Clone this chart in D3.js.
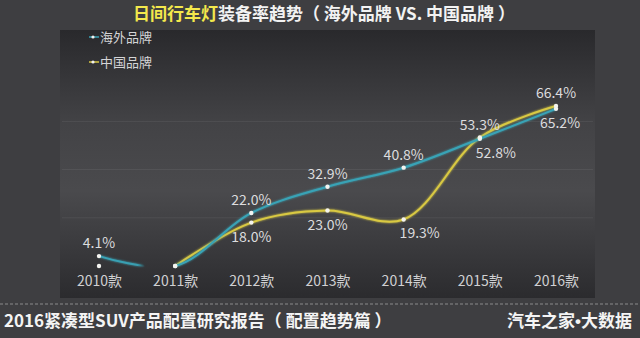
<!DOCTYPE html>
<html><head><meta charset="utf-8">
<script src="https://cdn.jsdelivr.net/npm/d3@7"></script>
<style>
html,body{margin:0;padding:0;background:#3d3d40;}
svg{display:block;}
text{font-family:"Noto Sans CJK SC","Noto Sans",sans-serif;}
</style></head>
<body>
<svg id="c" width="640" height="338"></svg>
<script>
const categories = ["2010款","2011款","2012款","2013款","2014款","2015款","2016款"];
const foreignValues = [4.1, 0, 22.0, 32.9, 40.8, 52.8, 65.2];
const chineseValues = [0, 0, 18.0, 23.0, 19.3, 53.3, 66.4];
const seriesNames = ["海外品牌","中国品牌"];
const gridTicks = [20, 40, 60];

const svg = d3.select("#c");
const defs = svg.append("defs");

svg.append("rect").attr("width",640).attr("height",338).attr("fill","#3e3e41");

const pg = defs.append("linearGradient").attr("id","panel").attr("x1",0).attr("y1",0).attr("x2",0).attr("y2",1);
pg.append("stop").attr("offset","0%").attr("stop-color","#29292c");
pg.append("stop").attr("offset","35%").attr("stop-color","#434346");
pg.append("stop").attr("offset","60%").attr("stop-color","#4a4a4d");
pg.append("stop").attr("offset","100%").attr("stop-color","#2b2b2e");
svg.append("rect").attr("x",60).attr("y",30).attr("width",535).attr("height",268).attr("fill","url(#panel)");

const x = d3.scalePoint().domain(categories).range([99,556]);
const y = d3.scaleLinear().domain([0,80]).range([266,73.2]);

svg.append("g").selectAll("line").data(gridTicks).join("line")
  .attr("x1",62).attr("x2",593)
  .attr("y1",d=>y(d)).attr("y2",d=>y(d))
  .attr("stroke","rgba(255,255,255,0.07)").attr("stroke-width",1);

const xAxis = d3.axisBottom(x).tickSize(0).tickPadding(0);
const gx = svg.append("g").attr("transform","translate(0,276)").call(xAxis);
gx.select(".domain").remove();
gx.selectAll("text").attr("fill","#d0d0d2").attr("font-size",14).attr("dy","0.71em");

const teal = "#39a3b6", yellow = "#d9c943";

const step = x.step();
const x0 = x(categories[0]);
const xEnd = x(categories[categories.length-1]);
const span = xEnd - x0;
const fg = defs.append("linearGradient").attr("id","fgrad").attr("gradientUnits","userSpaceOnUse")
  .attr("x1",x0).attr("x2",xEnd).attr("y1",0).attr("y2",0);
[[0,1],[0.5*step/span,0.9],[0.6*step/span,0],[0.98*step/span,0],[step/span,1],[1,1]].forEach(([o,a])=>{
  fg.append("stop").attr("offset",o).attr("stop-color",teal).attr("stop-opacity",a);
});

const glow = defs.append("filter").attr("id","glow").attr("x","-10%").attr("y","-10%").attr("width","120%").attr("height","120%");
glow.append("feGaussianBlur").attr("stdDeviation",1.2).attr("result","b");
const fm = glow.append("feMerge"); fm.append("feMergeNode").attr("in","b"); fm.append("feMergeNode").attr("in","SourceGraphic");

const line = d3.line().x((d,i)=>x(categories[i])).y(d=>y(d)).curve(d3.curveCatmullRom.alpha(0.5));
const chineseLine = d3.line().defined((d,i)=>i>=1).x((d,i)=>x(categories[i])).y(d=>y(d)).curve(d3.curveCatmullRom.alpha(0.5));

svg.append("path").datum(chineseValues).attr("d",chineseLine)
  .attr("fill","none").attr("stroke",yellow).attr("stroke-width",2).attr("filter","url(#glow)");
svg.append("path").datum(foreignValues).attr("d",line)
  .attr("fill","none").attr("stroke","url(#fgrad)").attr("stroke-width",2).attr("filter","url(#glow)");

const allSeries = [foreignValues, chineseValues];
allSeries.forEach((vals)=>{
  svg.append("g").selectAll("circle").data(vals).join("circle")
    .attr("cx",(d,i)=>x(categories[i])).attr("cy",d=>y(d)).attr("r",2.2)
    .attr("fill","#f4f4f0");
});

allSeries.forEach((vals,si)=>{
  const other = allSeries[1-si];
  const pts = vals.map((v,i)=>({v,i,o:other[i]})).filter(p=>p.v>0);
  svg.append("g").selectAll("text").data(pts).join("text")
    .attr("x",p=>x(categories[p.i]) + ((p.v<p.o && p.i>=4)?(p.i===categories.length-1?4:16):0))
    .attr("y",p=> p.v>=p.o ? y(p.v)-8 : y(p.v)+19)
    .attr("text-anchor","middle").attr("font-size",14).attr("fill","#dcdcde")
    .text(p=>p.v.toFixed(1)+"%");
});

const legendColors = [teal, yellow];
seriesNames.forEach((n,i)=>{
  const ly = 37 + i*25;
  svg.append("line").attr("x1",89).attr("x2",99).attr("y1",ly).attr("y2",ly).attr("stroke",legendColors[i]).attr("stroke-width",1.5);
  svg.append("circle").attr("cx",93).attr("cy",ly).attr("r",1.6).attr("fill","#f0f0f0");
  svg.append("text").attr("x",100).attr("y",ly).attr("dy","0.35em").attr("font-size",13).attr("fill","#d4d4d6").text(n);
});

const title = svg.append("text").attr("x",133).attr("y",20).attr("font-size",17).attr("font-weight","bold");
title.append("tspan").attr("fill","#f3e84c").text("日间行车灯");
title.append("tspan").attr("fill","#f2f2f2").text("装备率趋势（ 海外品牌 VS. 中国品牌 ）");

svg.append("line").attr("x1",0).attr("x2",640).attr("y1",304).attr("y2",304)
  .attr("stroke","#8a8a8c").attr("stroke-width",1).attr("stroke-dasharray","3,2");
svg.append("text").attr("x",4).attr("y",327).attr("font-size",17).attr("font-weight","bold").attr("fill","#f4f4f4")
  .text("2016紧凑型SUV产品配置研究报告（ 配置趋势篇 ）");
const foot = svg.append("text").attr("x",632).attr("y",327).attr("text-anchor","end").attr("font-size",17).attr("font-weight","bold").attr("fill","#f4f4f4");
foot.append("tspan").text("汽车之家");
foot.append("tspan").attr("font-family","Liberation Sans").text("•");
foot.append("tspan").text("大数据");
</script>
</body></html>
